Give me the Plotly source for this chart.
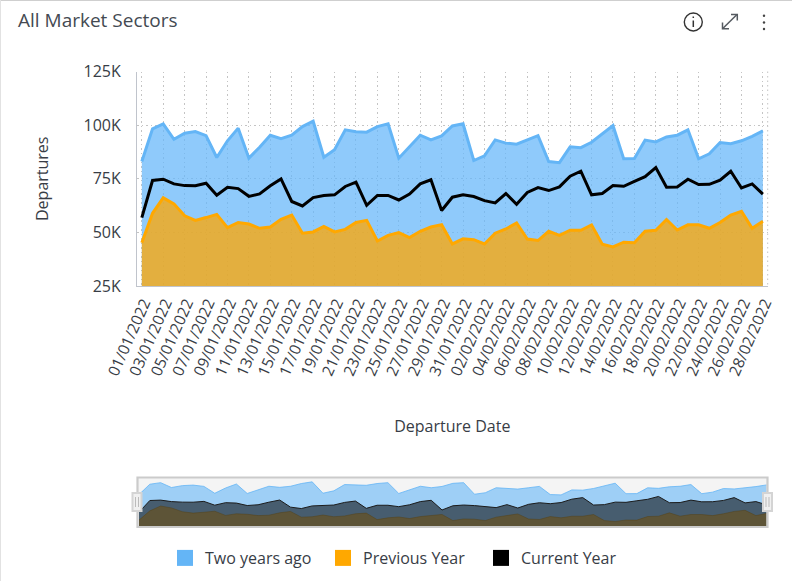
import pandas as pd
import plotly.graph_objects as go

dates = pd.date_range("2022-01-01", "2022-02-28").strftime("%Y-%m-%d").tolist()
two_years_ago = [83000,98300,100600,93400,96200,97000,95100,84900,92700,98600,84600,89700,95300,93700,95300,99300,101800,85000,88500,97800,96900,96700,99300,100600,84600,89700,95300,93100,95000,99600,100600,83500,85700,93100,91600,91100,93100,95100,83000,82500,89900,89500,92000,95800,99800,84300,84400,93000,92200,94500,95300,97800,84300,86600,91900,91300,92700,94800,97300]
previous_year = [45200,58900,66100,63300,57700,55600,56900,58400,52200,54600,53900,51900,52500,56100,58100,49600,50200,52800,50200,51400,54600,55600,46000,48600,49900,47600,50500,52500,53600,44600,47000,46600,44600,49600,51600,54400,46900,46200,50500,48600,51000,51000,53500,44500,43200,45400,45200,50500,51000,56000,51100,53500,53500,51900,54600,58100,59800,51900,55200]
current_year = [56900,74200,74800,72600,71800,71700,72900,67300,71000,70400,66800,67900,71700,74900,64400,62300,66200,67200,67500,71400,73400,62600,67200,67200,65100,67900,72600,74500,60200,66400,67500,66700,64800,63700,68100,63100,68600,70900,69500,71200,76200,78500,67500,68100,71800,71500,73800,76000,80200,71000,71200,74800,72300,72400,74300,78500,70700,72600,67800]
y_ticks = [25000, 50000, 75000, 100000, 125000]
y_labels = ["25K", "50K", "75K", "100K", "125K"]

W, H = 792, 581
FONT = "Open Sans"
TXT = "#383d46"
def px(x): return x / W
def py(y): return 1 - y / H

BLUE, ORANGE, BLACK = "#64b5f6", "#ffa800", "#000000"
fig = go.Figure()
# main chart
fig.add_trace(go.Scatter(x=dates, y=two_years_ago, mode="lines", name="Two years ago", showlegend=False,
                         line=dict(color=BLUE, width=3), fill="tozeroy", fillcolor="rgba(100,181,250,0.72)"))
fig.add_trace(go.Scatter(x=dates, y=previous_year, mode="lines", name="Previous Year", showlegend=False,
                         line=dict(color=ORANGE, width=3), fill="tozeroy", fillcolor="rgba(255,165,0,0.75)"))
fig.add_trace(go.Scatter(x=dates, y=current_year, mode="lines", name="Current Year", showlegend=False,
                         line=dict(color=BLACK, width=3)))
# navigator
for vals, lc, fc, nm in [(two_years_ago, "rgba(100,181,246,0.8)", "rgba(100,181,246,0.6)", "Two years ago"),
                         (previous_year, "rgba(181,122,0,0.35)", "rgba(255,165,0,0.5)", "Previous Year"),
                         (current_year, "#1c1c1c", "rgba(0,0,0,0.55)", "Current Year")]:
    fig.add_trace(go.Scatter(x=dates, y=vals, xaxis="x2", yaxis="y2", mode="lines", name=nm, showlegend=False,
                             hoverinfo="skip", line=dict(color=lc, width=1), fill="tozeroy", fillcolor=fc))
# legend keys
for nm, c in [("Two years ago", BLUE), ("Previous Year", ORANGE), ("Current Year", BLACK)]:
    fig.add_trace(go.Scatter(x=[None], y=[None], mode="markers", name=nm,
                             marker=dict(symbol="square", size=16, color=c)))

shapes = []
def rect(x0, y0, x1, y1, **k):
    shapes.append(dict(type="rect", xref="paper", yref="paper", x0=px(x0), x1=px(x1), y0=py(y0), y1=py(y1), **k))
def seg(x0, y0, x1, y1, color, width=1, dash="solid"):
    shapes.append(dict(type="line", xref="paper", yref="paper", x0=px(x0), x1=px(x1), y0=py(y0), y1=py(y1),
                       line=dict(color=color, width=width, dash=dash)))
def path(d, color, width=1.5):
    shapes.append(dict(type="path", xref="paper", yref="paper", path=d, line=dict(color=color, width=width)))
def P(*pts):
    return "M " + " L ".join(f"{px(a):.5f} {py(b):.5f}" for a, b in pts)

DOTS = "1.5px,3px"
# card edges
seg(0, 0.5, W, 0.5, "#cfcfcf", 1)
seg(0.5, 0, 0.5, H, "#e2e2e2", 1)
# right dotted border of plot
seg(767.7, 71.5, 767.7, 286, "#c4c4c4", 1, DOTS)
# navigator
rect(138, 478, 767, 526, fillcolor="#f4f4f4", line=dict(width=0), layer="below")
rect(137.5, 477.5, 767.5, 527, line=dict(color="#cbcbcb", width=2.2))
for a, b in [(132.5, 141.5), (763, 772)]:
    rect(a, 493, b, 511, fillcolor="#f0f0f0", line=dict(color="#d4d4d4", width=2))
    seg((a+b)/2-1.5, 497, (a+b)/2-1.5, 507, "#bbbbbb", 1)
    seg((a+b)/2+1.5, 497, (a+b)/2+1.5, 507, "#bbbbbb", 1)
# toolbar icons
shapes.append(dict(type="circle", xref="paper", yref="paper", x0=px(684.3), x1=px(702.3), y0=py(13), y1=py(31),
                   line=dict(color="#333333", width=1.4)))
seg(693.3, 20.5, 693.3, 27, "#333333", 1.5)
seg(693.3, 16.5, 693.3, 18, "#333333", 1.5)
ic = "#555a60"
path(P((722.5, 28.8), (737, 14.5)), ic)
path(P((731, 14.5), (737.3, 14.5), (737.3, 20.5)), ic)
path(P((722.5, 22.5), (722.5, 28.8), (729, 28.8)), ic)
for yy in (15.7, 22.5, 29):
    shapes.append(dict(type="circle", xref="paper", yref="paper", x0=px(762.8), x1=px(765.2), y0=py(yy-1.2), y1=py(yy+1.2),
                       fillcolor="#444444", line=dict(width=0)))

fig.update_layout(
    width=W, height=H, autosize=False,
    margin=dict(l=0, r=0, t=0, b=0),
    paper_bgcolor="white", plot_bgcolor="white",
    font=dict(family=FONT, size=14, color=TXT),
    title=dict(text="All Market Sectors", x=px(18), xref="paper", xanchor="left", y=py(20.5), yanchor="middle",
               yref="paper", font=dict(family=FONT, size=19, color="#444a52")),
    xaxis=dict(domain=[px(137), px(767.7)], type="date",
               range=["2021-12-31 13:12", "2022-02-28 10:48"], tick0="2022-01-01", dtick=2*86400000,
               tickformat="%d/%m/%Y", tickangle=-66, tickfont=dict(size=15.5, color=TXT), ticks="",
               ticklabelshift=2, ticklabelstandoff=1,
               showgrid=True, gridcolor="#c4c4c4", griddash=DOTS, gridwidth=1,
               showline=True, linecolor="#c0c4cc", linewidth=1, anchor="y", zeroline=False,
               title=dict(text="Departure Date", font=dict(size=16, color=TXT), standoff=42), automargin=False),
    yaxis=dict(domain=[py(286), py(71.5)], range=[25000, 125000], tickvals=y_ticks, ticktext=y_labels,
               tickfont=dict(size=16, color=TXT), ticks="", ticklen=0, ticklabelstandoff=12,
               showgrid=True, gridcolor="#c4c4c4", griddash=DOTS, gridwidth=1,
               showline=True, linecolor="#c0c4cc", linewidth=1, anchor="x", zeroline=False,
               title=dict(text="Departures", font=dict(size=16, color=TXT), standoff=30), automargin=False),
    xaxis2=dict(domain=[px(139), px(766.7)], type="date", range=[dates[0], dates[-1]], visible=False, anchor="y2", fixedrange=True),
    yaxis2=dict(domain=[py(526), py(478)], range=[36500, 107500], visible=False, anchor="x2", fixedrange=True),
    legend=dict(orientation="h", x=px(165), xanchor="left", y=py(558), yanchor="middle",
                entrywidth=113, entrywidthmode="pixels",
                font=dict(family=FONT, size=16, color=TXT), bgcolor="rgba(0,0,0,0)"),
    shapes=shapes,
)
fig.write_html("out.html", config={"displayModeBar": False},
               post_script="document.body.style.margin='0';")
